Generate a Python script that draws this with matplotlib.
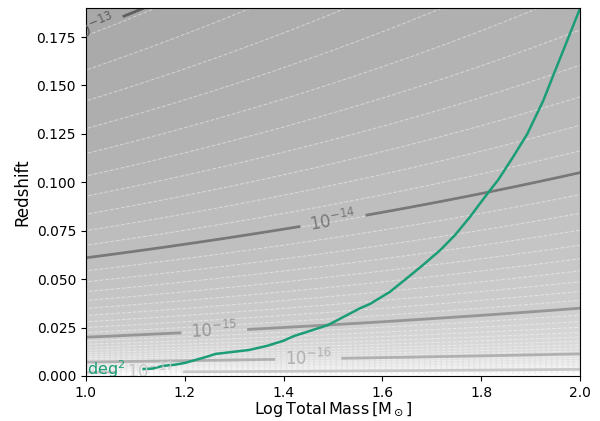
import numpy as np
import matplotlib
matplotlib.use('Agg')
import matplotlib.pyplot as plt

# strain contour levels (log10) and the redshift where each one meets the left / right edge
lev_log = [-17, -16, -15, -14, -13]
z_left = [0.0019, 0.0072, 0.020, 0.061, 0.178]    # log M = 1.0
z_right = [0.0034, 0.0114, 0.035, 0.105, 0.31]    # log M = 2.0
line_cols = ['#c8c8c8', '#b0b0b0', '#969696', '#787878', '#5e5e5e']
lab_pos = [(1.13, 0.0021), (1.45, 0.0088), (1.26, 0.0225), (1.50, 0.080), (1.005, 0.184)]

# sky area contour (deg^2)
gx = [1.117, 1.135, 1.156, 1.18, 1.20, 1.243, 1.263, 1.30, 1.33, 1.366, 1.40, 1.42, 1.49,
      1.555, 1.575, 1.615, 1.650, 1.682, 1.717, 1.747, 1.777, 1.798, 1.818, 1.834, 1.864,
      1.893, 1.925, 1.953, 1.975, 2.0]
gz = [0.0036, 0.0038, 0.0052, 0.0058, 0.0067, 0.0098, 0.0114, 0.0125, 0.0134, 0.0155, 0.0182, 0.0205, 0.0263,
      0.0350, 0.0372, 0.0434, 0.0506, 0.0573, 0.0650, 0.0728, 0.0821, 0.0893, 0.0960, 0.1012, 0.1130,
      0.1250, 0.1420, 0.1600, 0.1740, 0.1900]


def field(xx, zz):
    a = np.log10(z_left)
    b = np.log10(z_right)
    lev = np.array(lev_log, float)
    out = np.empty((len(zz), len(xx)))
    lzz = np.log10(zz)
    for j, xv in enumerate(xx):
        k = a + (b - a) * (xv - 1.0)
        v = np.interp(lzz, k, lev)
        lo = lzz < k[0]
        v[lo] = lev[0] + (lev[1] - lev[0]) / (k[1] - k[0]) * (lzz[lo] - k[0])
        hi = lzz > k[-1]
        v[hi] = lev[-1] + (lev[-1] - lev[-2]) / (k[-1] - k[-2]) * (lzz[hi] - k[-1])
        out[:, j] = v
    return out


xs = np.linspace(0.95, 2.0, 260)
zs = np.linspace(0.0004, 0.19, 400)
X, Z = np.meshgrid(xs, zs)
F = field(xs, zs)

fig = plt.figure(figsize=(6, 4.21), dpi=100)
ax = fig.add_axes([0.143, 0.107, 0.824, 0.874])

fl = np.linspace(F.min(), F.max(), 60)
ax.contourf(X, Z, F, levels=fl, cmap='Greys', vmin=-19, vmax=-5.4)
ax.contour(X, Z, F, levels=fl, colors='w', linewidths=0.75, alpha=0.45)

cs = ax.contour(X, Z, F, levels=lev_log, colors=line_cols, linewidths=2, linestyles='solid')
fmt = {l: r'$10^{%d}$' % l for l in lev_log}
labs = ax.clabel(cs, fmt=fmt, fontsize=12, manual=lab_pos, inline=True, inline_spacing=8)
for t in labs:
    t.set_clip_on(True)

ax.plot(gx, gz, color='#1b9e77', lw=1.8)
ax.text(1.002, 0.0003, r'deg$^2$', color='#1b9e77', fontsize=11.5, va='baseline', clip_on=True)

ax.set_xlim(1.0, 2.0)
ax.set_ylim(0.0, 0.19)
ax.set_xlabel(r'$\mathrm{Log\,Total\,Mass\,[M_\odot]}$', fontsize=11.5, labelpad=0.5)
ax.set_ylabel('Redshift', fontsize=12)

fig.savefig('out.png', dpi=100)
